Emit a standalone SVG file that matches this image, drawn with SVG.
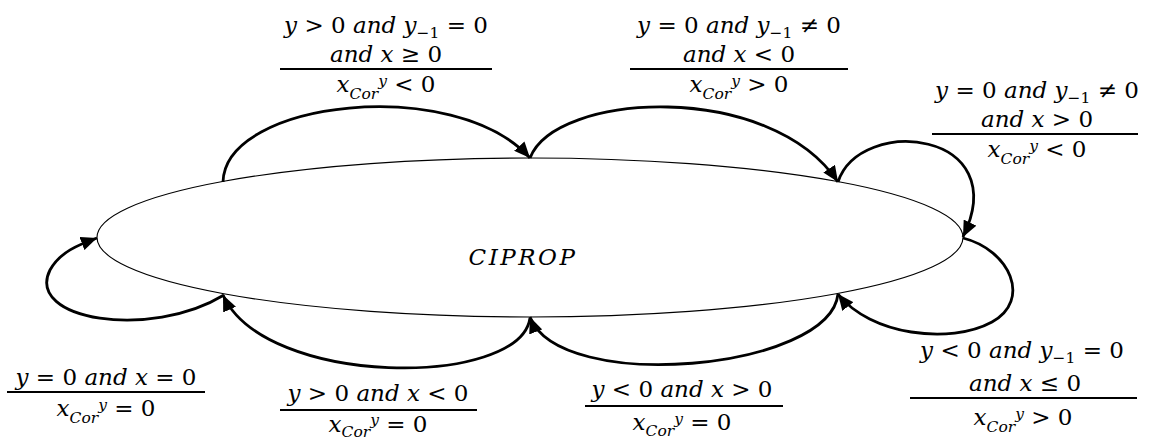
<svg xmlns="http://www.w3.org/2000/svg" width="1157" height="441" viewBox="0 0 1157 441">
<style>
.t{font-family:"DejaVu Serif","Liberation Serif",serif;font-size:23px;fill:#000;text-anchor:middle}
.i{font-style:italic}
.s{font-size:15.5px}
.bar{stroke:#000;stroke-width:1.8}
.c{fill:none;stroke:#000;stroke-width:2.8}
</style>
<defs>
<marker id="ah" markerUnits="userSpaceOnUse" markerWidth="18" markerHeight="14" refX="16" refY="7" orient="auto"><path d="M0,0 L16,7 L0,14 z" fill="#000"/></marker>
</defs>
<g id="node-ciprop">
<ellipse cx="530" cy="237.5" rx="433" ry="79.5" fill="#fff" stroke="#000" stroke-width="1.1"/>
<text class="t i" x="523" y="265" letter-spacing="2.5">CIPROP</text>
</g>
<g id="connectors">
<path class="c" marker-end="url(#ah)" d="M223,182 C225,100 455,75 530,158"/>
<path class="c" marker-end="url(#ah)" d="M530,158 C555,92 770,80 838,182"/>
<path class="c" marker-end="url(#ah)" d="M838,182 C860,115 1015,130 963,237"/>
<path class="c" marker-end="url(#ah)" d="M963,238 C1010,250 1032,300 992,322 C950,345 870,335 838,294"/>
<path class="c" marker-end="url(#ah)" d="M838,294 C830,370 560,395 530,317"/>
<path class="c" marker-end="url(#ah)" d="M530,318 C520,388 265,388 223,295"/>
<path class="c" marker-end="url(#ah)" d="M224,295 C150,340 25,320 50,270 C60,252 78,245 97,238"/>
</g>
<g id="label-1">
<text class="t" x="386" y="33"><tspan class="i">y</tspan> &gt; 0 <tspan class="i">and y</tspan><tspan class="s" dy="5">−1</tspan><tspan dy="-5"> = 0</tspan></text>
<text class="t" x="386" y="62"><tspan class="i">and x</tspan> ≥ 0</text>
<line class="bar" x1="280" y1="69" x2="492" y2="69"/>
<text class="t" x="386" y="92"><tspan class="i">x</tspan><tspan class="i s" dy="7">Cor</tspan><tspan class="i s" dy="-13">y</tspan><tspan dy="6"> &lt; 0</tspan></text>
</g>
<g id="label-2">
<text class="t" x="739" y="33"><tspan class="i">y</tspan> = 0 <tspan class="i">and y</tspan><tspan class="s" dy="5">−1</tspan><tspan dy="-5"> ≠ 0</tspan></text>
<text class="t" x="739" y="62"><tspan class="i">and x</tspan> &lt; 0</text>
<line class="bar" x1="630" y1="69" x2="848" y2="69"/>
<text class="t" x="739" y="92"><tspan class="i">x</tspan><tspan class="i s" dy="7">Cor</tspan><tspan class="i s" dy="-13">y</tspan><tspan dy="6"> &gt; 0</tspan></text>
</g>
<g id="label-3">
<text class="t" x="1037" y="98"><tspan class="i">y</tspan> = 0 <tspan class="i">and y</tspan><tspan class="s" dy="5">−1</tspan><tspan dy="-5"> ≠ 0</tspan></text>
<text class="t" x="1037" y="127"><tspan class="i">and x</tspan> &gt; 0</text>
<line class="bar" x1="932" y1="134" x2="1138" y2="134"/>
<text class="t" x="1037" y="157"><tspan class="i">x</tspan><tspan class="i s" dy="7">Cor</tspan><tspan class="i s" dy="-13">y</tspan><tspan dy="6"> &lt; 0</tspan></text>
</g>
<g id="label-4">
<text class="t" x="106" y="385"><tspan class="i">y</tspan> = 0 <tspan class="i">and x</tspan> = 0</text>
<line class="bar" x1="7" y1="392" x2="205" y2="392"/>
<text class="t" x="106" y="416"><tspan class="i">x</tspan><tspan class="i s" dy="7">Cor</tspan><tspan class="i s" dy="-13">y</tspan><tspan dy="6"> = 0</tspan></text>
</g>
<g id="label-5">
<text class="t" x="378" y="401"><tspan class="i">y</tspan> &gt; 0 <tspan class="i">and x</tspan> &lt; 0</text>
<line class="bar" x1="280" y1="410" x2="477" y2="410"/>
<text class="t" x="378" y="432"><tspan class="i">x</tspan><tspan class="i s" dy="5">Cor</tspan><tspan class="i s" dy="-12">y</tspan><tspan dy="7"> = 0</tspan></text>
</g>
<g id="label-6">
<text class="t" x="682" y="397"><tspan class="i">y</tspan> &lt; 0 <tspan class="i">and x</tspan> &gt; 0</text>
<line class="bar" x1="585" y1="406" x2="783" y2="406"/>
<text class="t" x="682" y="430"><tspan class="i">x</tspan><tspan class="i s" dy="6">Cor</tspan><tspan class="i s" dy="-12">y</tspan><tspan dy="6"> = 0</tspan></text>
</g>
<g id="label-7">
<text class="t" x="1022" y="358"><tspan class="i">y</tspan> &lt; 0 <tspan class="i">and y</tspan><tspan class="s" dy="5">−1</tspan><tspan dy="-5"> = 0</tspan></text>
<text class="t" x="1025" y="391"><tspan class="i">and x</tspan> ≤ 0</text>
<line class="bar" x1="910" y1="398" x2="1137" y2="398"/>
<text class="t" x="1023" y="425"><tspan class="i">x</tspan><tspan class="i s" dy="7">Cor</tspan><tspan class="i s" dy="-13">y</tspan><tspan dy="6"> &gt; 0</tspan></text>
</g>
</svg>
